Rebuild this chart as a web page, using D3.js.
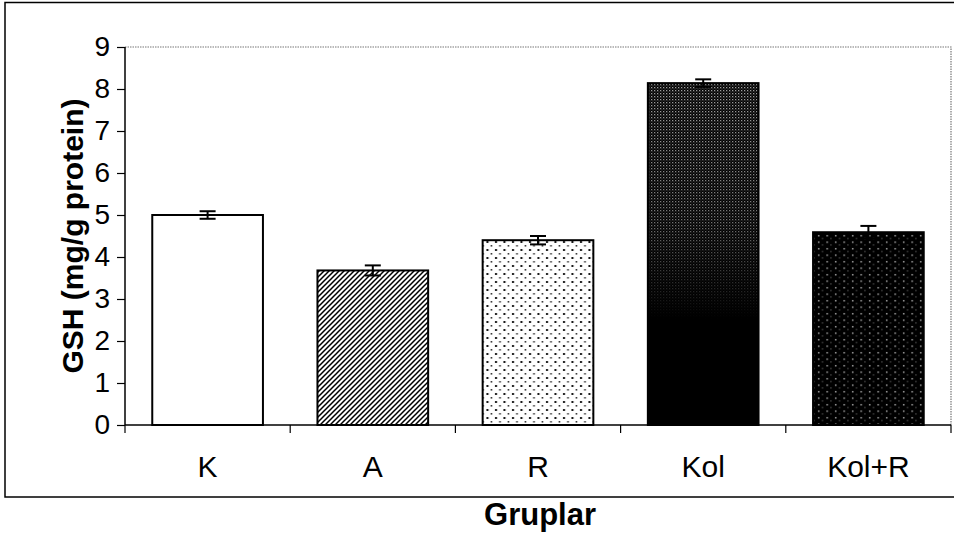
<!DOCTYPE html>
<html><head><meta charset="utf-8">
<script src="https://cdn.jsdelivr.net/npm/d3@7"></script>
<style>body{margin:0;background:#fff}svg{display:block}</style>
</head><body>
<svg id="c" width="954" height="540"></svg>
<script>
const categories = ["K", "A", "R", "Kol", "Kol+R"];
const values = [5.0, 3.68, 4.40, 8.14, 4.59];
const errors = [0.09, 0.12, 0.10, 0.09, 0.15];
const yTicks = [0, 1, 2, 3, 4, 5, 6, 7, 8, 9];
const fills = ["#fff", "url(#hatch)", "url(#dots)", "url(#kolFill)", "url(#whiteDots)"];

const svg = d3.select("#c");
const m = {left:125, right:951, top:47, bottom:425};
const font = "'Liberation Sans', Arial, sans-serif";

const defs = svg.append("defs");
// diagonal hatch
const h = defs.append("pattern").attr("id","hatch").attr("patternUnits","userSpaceOnUse")
  .attr("width",5).attr("height",5);
h.append("rect").attr("width",5).attr("height",5).attr("fill","#fff");
h.append("path").attr("d","M-1,6 L6,-1 M-1,1 L1,-1 M4,6 L6,4").attr("stroke","#000").attr("stroke-width",1.5);
// light dots
const d1 = defs.append("pattern").attr("id","dots").attr("patternUnits","userSpaceOnUse")
  .attr("width",8.5).attr("height",8);
d1.append("rect").attr("width",8.5).attr("height",8).attr("fill","#fff");
d1.append("rect").attr("x",2).attr("y",1).attr("width",2).attr("height",2).attr("fill","#111");
d1.append("rect").attr("x",6.2).attr("y",5).attr("width",1.6).attr("height",1.6).attr("fill","#333");
// black with white dots
const d2 = defs.append("pattern").attr("id","whiteDots").attr("patternUnits","userSpaceOnUse")
  .attr("width",8.5).attr("height",6.5);
d2.append("rect").attr("width",8.5).attr("height",6.5).attr("fill","#000");
d2.append("rect").attr("x",2).attr("y",1).attr("width",1.4).attr("height",1.4).attr("fill","#bbb");
d2.append("rect").attr("x",6).attr("y",4).attr("width",1).attr("height",1).attr("fill","#888");
// Kol gradient fill
const d3p = defs.append("pattern").attr("id","grayDots").attr("patternUnits","userSpaceOnUse")
  .attr("width",3).attr("height",3);
d3p.append("rect").attr("width",3).attr("height",3).attr("fill","#000");
d3p.append("rect").attr("x",0).attr("y",0).attr("width",1.3).attr("height",1.3).attr("fill","#a0a0a0");
d3p.append("rect").attr("x",1.5).attr("y",1.5).attr("width",1).attr("height",1).attr("fill","#6a6a6a");
const lg = defs.append("linearGradient").attr("id","kolGrad").attr("x1",0).attr("y1",0).attr("x2",0).attr("y2",1);
lg.append("stop").attr("offset","0%").attr("stop-color","#fff");
lg.append("stop").attr("offset","40%").attr("stop-color","#bbb");
lg.append("stop").attr("offset","62%").attr("stop-color","#333");
lg.append("stop").attr("offset","69%").attr("stop-color","#000");
lg.append("stop").attr("offset","100%").attr("stop-color","#000");
const mask = defs.append("mask").attr("id","kolMask").attr("maskContentUnits","objectBoundingBox");
mask.append("rect").attr("width",1).attr("height",1).attr("fill","url(#kolGrad)");

const x = d3.scaleBand().domain(categories).range([m.left, m.right]).paddingInner(0.33).paddingOuter(0.165);
const y = d3.scaleLinear().domain([0, 9]).range([m.bottom, m.top]);

// outer frame
svg.append("rect").attr("x",5).attr("y",2.5).attr("width",960).attr("height",494.5)
  .attr("fill","none").attr("stroke","#000").attr("stroke-width",1.5);

// plot border dotted (top and right)
svg.append("path").attr("d",`M${m.left},${m.top}H${m.right}V${m.bottom}`)
  .attr("fill","none").attr("stroke","#777").attr("stroke-width",1.2).attr("stroke-dasharray","1.5,1");

// bars
const bars = svg.append("g");
categories.forEach((c,i)=>{
  const bx = x(c), bw = x.bandwidth(), by = y(values[i]), bh = y(0)-y(values[i]);
  bars.append("rect").attr("x",bx).attr("y",by).attr("width",bw).attr("height",bh)
    .attr("fill", i===3 ? "#000" : fills[i]).attr("stroke","#000").attr("stroke-width",2);
  if(i===3){
    bars.append("rect").attr("x",bx+1).attr("y",by+1).attr("width",bw-2).attr("height",bh-2)
      .attr("fill","url(#grayDots)").attr("mask","url(#kolMask)");
  }
});

// error bars
const eb = svg.append("g").attr("stroke","#000").attr("stroke-width",2);
categories.forEach((c,i)=>{
  const cx = x(c)+x.bandwidth()/2;
  const t = y(values[i]+errors[i]), b = y(values[i]-errors[i]);
  eb.append("line").attr("x1",cx).attr("x2",cx).attr("y1",t).attr("y2",b);
  eb.append("line").attr("x1",cx-8).attr("x2",cx+8).attr("y1",t).attr("y2",t);
  eb.append("line").attr("x1",cx-8).attr("x2",cx+8).attr("y1",b).attr("y2",b);
});

// y axis
const ya = svg.append("g").attr("transform",`translate(${m.left},0)`)
  .call(d3.axisLeft(y).tickValues(yTicks).tickSize(8).tickPadding(7).tickFormat(d3.format("d")));
ya.select(".domain").attr("stroke-width",1.5).attr("d",`M0,${m.top}V${m.bottom}`);
ya.selectAll(".tick line").attr("stroke-width",1.2);
ya.selectAll("text").attr("font-family",font).attr("font-size",28).attr("fill","#000");

// x axis
const xa = svg.append("g").attr("transform",`translate(0,${m.bottom})`)
  .call(d3.axisBottom(x).tickSize(0).tickPadding(0));
xa.select(".domain").attr("stroke-width",1.5).attr("d",`M${m.left},0H${m.right}`);
xa.selectAll("text").attr("font-family",font).attr("font-size",30).attr("fill","#000")
  .attr("dy",null).attr("y",52);
const sep = x.domain().map(c=>x(c)-x.step()*x.paddingInner()/2).concat([m.right]);
svg.append("g").selectAll("line").data(sep).join("line")
  .attr("x1",d=>d).attr("x2",d=>d).attr("y1",m.bottom).attr("y2",m.bottom+8)
  .attr("stroke","#000").attr("stroke-width",1.2);

// titles
svg.append("text").attr("x",540).attr("y",525).attr("text-anchor","middle")
  .attr("font-family",font).attr("font-weight","bold").attr("font-size",31).text("Gruplar");
svg.append("text").attr("transform",`translate(83,${(m.top+m.bottom)/2}) rotate(-90)`)
  .attr("text-anchor","middle").attr("font-family",font).attr("font-weight","bold").attr("font-size",30)
  .text("GSH (mg/g protein)");
</script>
</body></html>
